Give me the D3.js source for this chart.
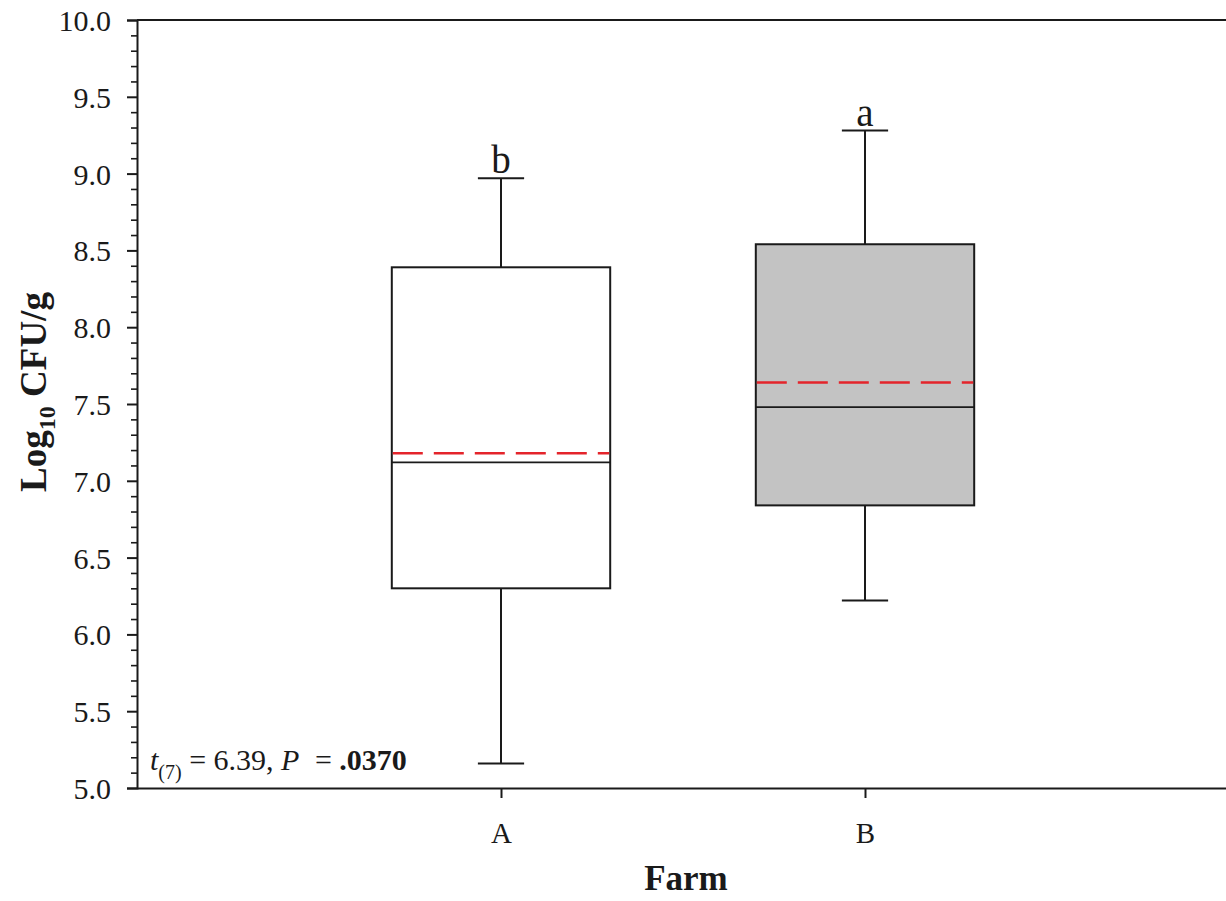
<!DOCTYPE html>
<html>
<head>
<meta charset="utf-8">
<script src="https://cdn.jsdelivr.net/npm/d3@7"></script>
<style>
  html, body { margin: 0; padding: 0; background: #fff; }
  svg { display: block; }
  text { font-family: "Liberation Serif", "Times New Roman", serif; fill: #1a1a1a; }
</style>
</head>
<body>
<svg id="chart" width="1226" height="901"></svg>
<script>
// Box plot summaries for each farm (log10 CFU/g)
const farms      = ["A", "B"];
const whiskerLow = [5.16, 6.22];
const q1         = [6.30, 6.84];
const medians    = [7.12, 7.48];
const means      = [7.18, 7.64];
const q3         = [8.39, 8.54];
const whiskerHigh= [8.97, 9.28];
const groupLetters = ["b", "a"];
const boxFills   = ["#ffffff", "#c3c3c3"];
const yTicks     = [5.0, 5.5, 6.0, 6.5, 7.0, 7.5, 8.0, 8.5, 9.0, 9.5, 10.0];

const svg = d3.select("#chart");
const plotLeft = 137, plotTop = 20, plotBottom = 788, plotRight = 1226;

const y = d3.scaleLinear().domain([5, 10]).range([plotBottom, plotTop]);
const x = d3.scaleLinear().domain([0, 3]).range([plotLeft, 1229]);
const boxW = x(0.6) - x(0);
const capW = x(0.127) - x(0);

// Frame: top border line
svg.append("line")
  .attr("x1", plotLeft).attr("x2", plotRight)
  .attr("y1", y(10)).attr("y2", y(10))
  .attr("stroke", "#1a1a1a").attr("stroke-width", 2);

// Y axis with minor ticks
const minor = d3.range(50, 101).map(v => v / 10).filter(v => Math.round(v * 10) % 5 !== 0);
const yMinor = svg.append("g").attr("transform", `translate(${plotLeft},0)`)
  .call(d3.axisLeft(y).tickValues(minor).tickSize(6).tickFormat(""));
yMinor.select(".domain").remove();
yMinor.selectAll("line").attr("stroke", "#1a1a1a").attr("stroke-width", 1.6);

const yAxis = svg.append("g").attr("transform", `translate(${plotLeft},0)`)
  .call(d3.axisLeft(y).tickValues(yTicks).tickSize(10).tickPadding(16)
    .tickFormat(d3.format(".1f")));
yAxis.select(".domain").attr("stroke", "#1a1a1a").attr("stroke-width", 2);
yAxis.selectAll("line").attr("stroke", "#1a1a1a").attr("stroke-width", 2);
yAxis.selectAll("text").attr("font-size", 30).attr("dy", "0.35em")
  .style("font-family", "Liberation Serif").attr("fill", "#1a1a1a");

// X axis
const xAxis = svg.append("g").attr("transform", `translate(0,${plotBottom})`)
  .call(d3.axisBottom(x).tickValues([1, 2]).tickSize(10).tickPadding(24)
    .tickFormat(d => farms[d - 1]));
xAxis.select(".domain").attr("d", `M${plotLeft},0.5H${plotRight}`)
  .attr("stroke", "#1a1a1a").attr("stroke-width", 2);
xAxis.selectAll("line").attr("stroke", "#1a1a1a").attr("stroke-width", 2);
xAxis.selectAll("text").attr("font-size", 29)
  .style("font-family", "Liberation Serif").attr("fill", "#1a1a1a");

// Boxes
const groups = svg.append("g").selectAll("g").data(farms).join("g");
groups.each(function(f, i) {
  const g = d3.select(this);
  const cx = x(i + 1);
  // whiskers
  g.append("line").attr("x1", cx).attr("x2", cx)
    .attr("y1", y(whiskerHigh[i])).attr("y2", y(q3[i]))
    .attr("stroke", "#1a1a1a").attr("stroke-width", 2);
  g.append("line").attr("x1", cx).attr("x2", cx)
    .attr("y1", y(q1[i])).attr("y2", y(whiskerLow[i]))
    .attr("stroke", "#1a1a1a").attr("stroke-width", 2);
  [whiskerHigh[i], whiskerLow[i]].forEach(v => {
    g.append("line").attr("x1", cx - capW / 2).attr("x2", cx + capW / 2)
      .attr("y1", y(v)).attr("y2", y(v))
      .attr("stroke", "#1a1a1a").attr("stroke-width", 2);
  });
  // box
  g.append("rect")
    .attr("x", cx - boxW / 2).attr("width", boxW)
    .attr("y", y(q3[i])).attr("height", y(q1[i]) - y(q3[i]))
    .attr("fill", boxFills[i]).attr("stroke", "#1a1a1a").attr("stroke-width", 2);
  // median
  g.append("line").attr("x1", cx - boxW / 2).attr("x2", cx + boxW / 2)
    .attr("y1", y(medians[i])).attr("y2", y(medians[i]))
    .attr("stroke", "#1a1a1a").attr("stroke-width", 1.8);
  // mean (dashed red)
  g.append("line").attr("x1", cx - boxW / 2 + 1).attr("x2", cx + boxW / 2 - 1)
    .attr("y1", y(means[i])).attr("y2", y(means[i]))
    .attr("stroke", "#e4242b").attr("stroke-width", 2.5)
    .attr("stroke-dasharray", "30,11");
  // significance letter
  g.append("text").attr("x", cx).attr("y", y(whiskerHigh[i]) - 5)
    .attr("text-anchor", "middle").attr("font-size", 39)
    .text(groupLetters[i]);
});

// Axis titles
svg.append("text")
  .attr("x", 686).attr("y", 890)
  .attr("text-anchor", "middle").attr("font-size", 35).attr("font-weight", "bold")
  .text("Farm");

const yTitle = svg.append("text")
  .attr("transform", `translate(46,392) rotate(-90)`)
  .attr("text-anchor", "middle").attr("font-size", 37).attr("font-weight", "bold");
yTitle.append("tspan").text("Log");
yTitle.append("tspan").attr("font-size", 24).attr("dy", 9).text("10");
yTitle.append("tspan").attr("dy", -9).text(" CFU/g");

// Test statistic annotation
const stat = svg.append("text").attr("x", 150).attr("y", 770).attr("font-size", 30);
stat.append("tspan").attr("font-style", "italic").text("t");
stat.append("tspan").attr("font-size", 20).attr("dy", 9).text("(7)");
stat.append("tspan").attr("dy", -9).text(" = 6.39, ");
stat.append("tspan").attr("font-style", "italic").text("P");
stat.append("tspan").attr("dx", 8).text(" = ");
stat.append("tspan").attr("font-weight", "bold").text(".0370");
</script>
</body>
</html>
